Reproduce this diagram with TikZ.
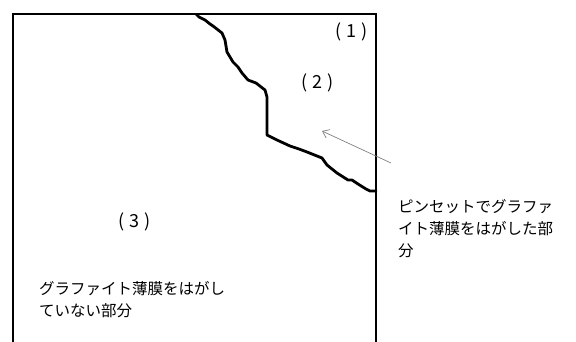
\documentclass[tikz,border=0pt]{standalone}
\usepackage{fontspec}
\newfontfamily\jp{Noto Sans CJK JP}
\usetikzlibrary{arrows.meta}
\newcommand{\parnum}[1]{(\hspace{5pt}#1\hspace{5pt})}
\begin{document}
\begin{tikzpicture}[x=1pt,y=-1pt,
  frame/.style={line width=2.4pt,line cap=rect},
  crack/.style={line width=2.8pt,line join=round,line cap=round},
  pointer/.style={draw=gray,line width=0.7pt,-{Straight Barb[length=6pt,width=9pt]}},
  lbl/.style={font=\jp\fontsize{15.5}{22}\selectfont,inner sep=0pt,anchor=west,align=left},
  num/.style={font=\jp\fontsize{18}{20}\selectfont,inner sep=0pt}]
\useasboundingbox (0,0) rectangle (576,341);
\coordinate (bl) at (13,341);
\coordinate (tl) at (13,14);
\coordinate (tr) at (376,14);
\coordinate (br) at (376,341);
\draw[frame] (bl) -- (tl) -- (tr) -- (br);
\draw[crack] (196,14) -- (199,17) -- (205,20) -- (210,24) -- (213,26) -- (222,33) -- (225,40)
  -- (227,52) -- (230,57) -- (233,62) -- (238,67) -- (242,73) -- (248,80) -- (256,83) -- (265,90) -- (267,97)
  -- (267,135) -- (277,140) -- (290,146) -- (299,149) -- (307,152) -- (322,158) -- (327,165)
  -- (337,173) -- (348,180) -- (352,180) -- (358,184) -- (366,189) -- (370,191) -- (376,191);
\node[num] (n1) at (352,32) {\parnum{1}};
\node[num] (n2) at (318,83) {\parnum{2}};
\node[num] (n3) at (135,222) {\parnum{3}};
\node[lbl] (peeled) at (398,229) {ピンセットでグラファ\\イト薄膜をはがした部\\分};
\node[lbl] (kept) at (39,300) {グラファイト薄膜をはがし\\ていない部分};
\coordinate (astart) at (391,163);
\coordinate (aend) at (322,131);
\draw[pointer] (astart) -- (aend);
\end{tikzpicture}
\end{document}
